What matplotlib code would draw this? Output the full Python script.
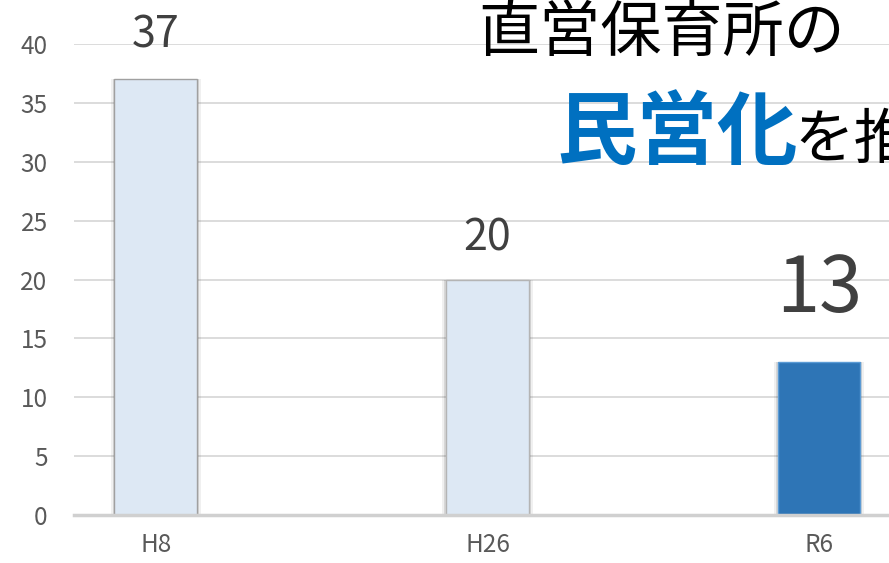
import matplotlib
matplotlib.use("Agg")
import matplotlib.pyplot as plt

plt.rcParams['font.family'] = ['Noto Sans CJK JP', 'DejaVu Sans']

categories = ["H8", "H26", "R6"]
values = [37, 20, 13]
bar_colors = ["#DDE8F4", "#DDE8F4", "#2E75B6"]
edge_colors = ["#A0A0A0", "#B4B4B4", "#5B9BD5"]
label_sizes = [31, 31, 56]
label_offsets = [23, 21, 36]
yticks = [0, 5, 10, 15, 20, 25, 30, 35, 40]

W, H = 889, 563
fig = plt.figure(figsize=(W / 100, H / 100), dpi=100)
ax = fig.add_axes([74 / W, 48 / H, (W - 74) / W, (515 - 44) / H])

x = list(range(len(categories)))
# soft shadow behind the bars
ax.bar(x, values, width=0.25 + 0.022, color="#000000", alpha=0.06, zorder=2, linewidth=0)
ax.bar(x, values, width=0.25 + 0.010, color="#000000", alpha=0.10, zorder=2, linewidth=0)
ax.bar(x, values, width=0.25, color=bar_colors, edgecolor=edge_colors,
       linewidth=1.0, zorder=3)

for xi, v, fs, off in zip(x, values, label_sizes, label_offsets):
    ax.annotate(str(v), (xi, v), xytext=(0, off), textcoords="offset points",
                ha="center", va="baseline", fontsize=fs, color="#404040", clip_on=False)

ax.set_ylim(0, 40)
ax.set_xlim(-0.247, (W - 156) / 331.5)
ax.set_yticks(yticks)
ax.set_xticks(x)
ax.set_xticklabels(categories)
ax.tick_params(axis="both", length=0, labelsize=17.5, colors="#595959")
ax.tick_params(axis="y", pad=19)
ax.tick_params(axis="x", pad=12)
ax.grid(axis="y", color="#D9D9D9", linewidth=1.3, zorder=0)
for s in ["top", "right", "left"]:
    ax.spines[s].set_visible(False)
ax.spines["bottom"].set_color("#D0D0D0")
ax.spines["bottom"].set_linewidth(2.5)
ax.spines["bottom"].set_zorder(4)

fig.text(478 / W, 1 - 51 / H, "直営保育所の", fontsize=44, color="black",
         ha="left", va="baseline")
fig.text(556 / W, 1 - 158 / H, "民営化", fontsize=58, color="#0070C0",
         fontweight="bold", ha="left", va="baseline")
fig.text(794 / W, 1 - 158 / H, "を推", fontsize=43, color="black",
         ha="left", va="baseline")

fig.savefig("out.png", dpi=100)
